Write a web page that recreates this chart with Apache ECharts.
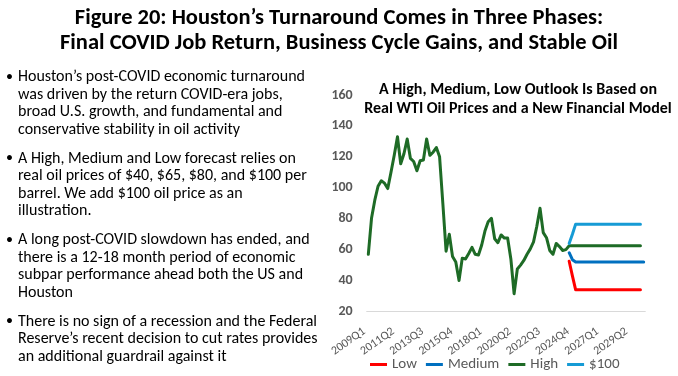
<!DOCTYPE html>
<html>
<head>
<meta charset="utf-8">
<script src="https://cdn.jsdelivr.net/npm/echarts@6/dist/echarts.min.js"></script>
<style>
  html, body { margin: 0; background: #fff; }
  #chart { width: 678px; height: 376px; }
</style>
</head>
<body>
<div id="chart"></div>
<script>
// quarterly categories 2009Q1 .. 2030Q2
const quarters = [];
for (let y = 2009; quarters.length < 86; y++) {
  for (let q = 1; q <= 4 && quarters.length < 86; q++) quarters.push(y + 'Q' + q);
}

// real WTI history (2009Q1..2024Q3) then the High path held flat
const high = [
  57, 80.5, 92, 101, 104.5, 103, 99.5, 110, 121, 133,
  115.5, 122, 131.5, 119, 117, 111, 117.5, 118, 131.5, 121,
  123, 126, 120, 90, 59, 70, 55.5, 52, 40, 54.5,
  54, 57.5, 61.5, 57, 56.5, 63, 72, 78, 80.3, 67,
  64.5, 69.5, 67.5, 67.5, 54, 31.5, 47.5, 50, 53, 57,
  60.5, 65, 75, 86.8, 71, 67.7, 59.5, 57, 64, 62,
  59.5, 60, 62.5,
  62.5, 62.5, 62.5, 62.5, 62.5, 62.5, 62.5, 62.5, 62.5, 62.5,
  62.5, 62.5, 62.5, 62.5, 62.5, 62.5, 62.5, 62.5, 62.5, 62.5,
  62.5, 62.5
];

// forecast paths start at 2024Q3 (index 62)
const forecastStart = 62;
const low = [
  52.5, 43, 34, 34, 34, 34, 34, 34, 34, 34, 34, 34,
  34, 34, 34, 34, 34, 34, 34, 34, 34, 34, 34
];
const medium = [
  58, 53.5, 52, 52, 52, 52, 52, 52, 52, 52, 52, 52,
  52, 52, 52, 52, 52, 52, 52, 52, 52, 52, 52, 52
];
const oil100 = [
  64, 70, 76.5, 76.5, 76.5, 76.5, 76.5, 76.5, 76.5, 76.5, 76.5, 76.5,
  76.5, 76.5, 76.5, 76.5, 76.5, 76.5, 76.5, 76.5, 76.5, 76.5, 76.5
];

const yTicks = { min: 20, max: 160, interval: 20 };

const titleLines = [
  'Figure 20: Houston\u2019s Turnaround Comes in Three Phases:',
  'Final COVID Job Return, Business Cycle Gains, and Stable Oil'
];
const chartTitleLines = [
  'A High, Medium, Low Outlook Is Based on',
  'Real WTI Oil Prices and a New Financial Model'
];
const bullets = [
  ['Houston\u2019s post-COVID economic turnaround',
   'was driven by the return COVID-era jobs,',
   'broad U.S. growth, and fundamental and',
   'conservative stability in oil activity'],
  ['A High, Medium and Low forecast relies on',
   'real oil prices of $40, $65, $80, and $100 per',
   'barrel. We add $100 oil price as an',
   'illustration.'],
  ['A long post-COVID slowdown has ended, and',
   'there is a 12-18 month period of economic',
   'subpar performance ahead both the US and',
   'Houston'],
  ['There is no sign of a recession and the Federal',
   'Reserve\u2019s recent decision to cut rates provides',
   'an additional guardrail against it']
];

const FONT = 'Carlito, Calibri, Lato, sans-serif';

function pad(values) {
  return quarters.map((q, i) => (i < forecastStart ? null : (values[i - forecastStart] ?? null)));
}

const graphics = [];
titleLines.forEach((t, i) => {
  graphics.push({
    type: 'text',
    style: {
      text: t, x: 339, y: 18 + i * 25,
      font: 'bold 22.5px ' + FONT, fill: '#000',
      textAlign: 'center', textVerticalAlign: 'middle'
    }
  });
});
chartTitleLines.forEach((t, i) => {
  graphics.push({
    type: 'text',
    style: {
      text: t, x: 518, y: 90 + i * 18.5,
      font: 'bold 16px ' + FONT, fill: '#000',
      textAlign: 'center', textVerticalAlign: 'middle'
    }
  });
});
let lineY = 77;
bullets.forEach((para) => {
  graphics.push({
    type: 'text',
    style: {
      text: '\u2022', x: 6, y: lineY,
      font: '14px ' + FONT, fill: '#000', textVerticalAlign: 'middle'
    }
  });
  para.forEach((t) => {
    graphics.push({
      type: 'text',
      style: {
        text: t, x: 18, y: lineY,
        font: '16px ' + FONT, fill: '#000', textVerticalAlign: 'middle'
      }
    });
    lineY += 17.5;
  });
  lineY += 11.5;
});

const chart = echarts.init(document.getElementById('chart'));

const lineSeries = (name, color, data) => ({
  name,
  type: 'line',
  data,
  showSymbol: false,
  symbol: 'none',
  lineStyle: { color, width: 3, join: 'round', cap: 'round' },
  itemStyle: { color },
  emphasis: { disabled: true },
  animation: false
});

chart.setOption({
  animation: false,
  graphic: graphics,
  grid: { left: 366.7, right: 32.7, top: 95, bottom: 64.5 },
  legend: {
    top: 352,
    left: 365,
    itemWidth: 17,
    itemHeight: 3,
    itemGap: 9,
    icon: 'rect',
    textStyle: { fontFamily: FONT, fontSize: 15, color: '#595959' },
    data: ['Low', 'Medium', 'High', '$100']
  },
  xAxis: {
    type: 'category',
    data: quarters,
    boundaryGap: true,
    axisLine: { lineStyle: { color: '#d9d9d9', width: 1 } },
    axisTick: { show: false },
    axisLabel: {
      interval: 8,
      rotate: 35,
      margin: 16,
      padding: [0, 5, 0, 0],
      fontFamily: FONT,
      fontSize: 12,
      color: '#595959'
    }
  },
  yAxis: {
    type: 'value',
    min: yTicks.min,
    max: yTicks.max,
    interval: yTicks.interval,
    splitLine: { show: false },
    axisLine: { show: false },
    axisTick: { show: false },
    axisLabel: {
      margin: 14,
      fontFamily: FONT,
      fontSize: 14,
      fontWeight: 'bold',
      color: '#595959'
    }
  },
  series: [
    lineSeries('Low', '#ff0000', pad(low)),
    lineSeries('Medium', '#0070c0', pad(medium)),
    lineSeries('High', '#1e6b26', high),
    lineSeries('$100', '#169bd5', pad(oil100))
  ]
});
</script>
</body>
</html>
